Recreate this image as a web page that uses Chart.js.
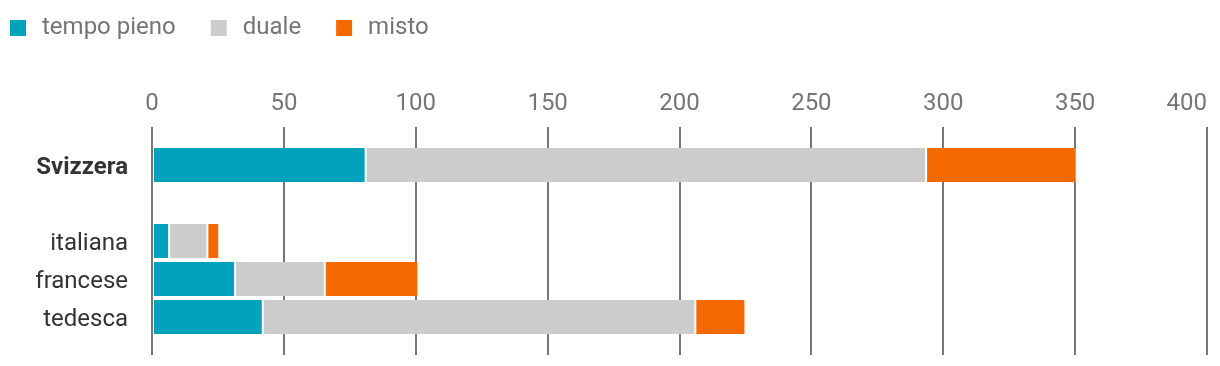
<!DOCTYPE html>
<html>
<head>
<meta charset="utf-8">
<script src="https://cdn.jsdelivr.net/npm/chart.js@4/dist/chart.umd.min.js"></script>
<style>
  html, body { margin: 0; padding: 0; background: #ffffff; }
  #wrap { width: 1220px; height: 366px; }
</style>
</head>
<body>
<div id="wrap"><canvas id="c" width="1220" height="366"></canvas></div>
<script>
// Categories (empty slots give the spacing seen in the chart)
const categories = ['', 'Svizzera', '', 'italiana', 'francese', 'tedesca', ''];
const seriesNames = ['tempo pieno', 'duale', 'misto'];
const tempoPieno = [null, 81, null, 6.5, 31.5, 42, null];
const duale      = [null, 212.5, null, 14.5, 34, 164, null];
const misto      = [null, 57, null, 4.5, 35.5, 19, null];
const xTicks = [0, 50, 100, 150, 200, 250, 300, 350, 400];

const colors = ['#00a3bb', '#cccccc', '#f56a00'];
const FONT = 'Roboto';

const values = [tempoPieno, duale, misto];
const datasets = seriesNames.map((name, i) => ({
  label: name,
  data: values[i],
  backgroundColor: colors[i],
  borderColor: '#ffffff',
  borderWidth: { left: 1, right: 1, top: 0, bottom: 0 },
  borderSkipped: false,
  categoryPercentage: 1,
  barPercentage: 0.895
}));

const xMin = xTicks[0];
const xMax = xTicks[xTicks.length - 1];

new Chart(document.getElementById('c'), {
  type: 'bar',
  data: { labels: categories, datasets },
  options: {
    indexAxis: 'y',
    responsive: false,
    animation: false,
    layout: { padding: { left: -25, top: -15, right: 13, bottom: 11 } },
    plugins: {
      tooltip: { enabled: false },
      legend: {
        position: 'top',
        align: 'start',
        labels: {
          usePointStyle: true,
          pointStyle: 'rect',
          boxWidth: 24,
          boxHeight: 16,
          padding: 31,
          color: '#757575',
          font: { family: FONT, size: 24 },
          generateLabels: (chart) =>
            Chart.defaults.plugins.legend.labels.generateLabels(chart)
              .map(l => Object.assign(l, { lineWidth: 0, pointStyle: 'rect', strokeStyle: l.fillStyle }))
        }
      }
    },
    scales: {
      x: {
        position: 'top',
        stacked: true,
        min: xMin,
        max: xMax,
        afterBuildTicks: (s) => { s.ticks = xTicks.map(v => ({ value: v })); },
        ticks: {
          stepSize: 50,
          padding: 9,
          color: '#757575',
          font: { family: FONT, size: 24 },
          maxRotation: 0,
          autoSkip: false,
          callback: (v) => v === xMax ? String(v) + '\u2007\u2007\u2007' : String(v)
        },
        grid: { color: '#777777', lineWidth: 2, drawTicks: false },
        border: { display: false },
        afterFit: (s) => { s.height = 77; s.paddingLeft = 0; s.paddingRight = 0; }
      },
      y: {
        stacked: true,
        offset: false,
        ticks: {
          padding: 24,
          labelOffset: 3,
          autoSkip: false,
          color: '#333333',
          font: (ctx) => ({ family: FONT, size: 24, weight: ctx.index === 1 ? 'bold' : 'normal' })
        },
        grid: { display: false, drawTicks: false },
        border: { display: false },
        afterFit: (s) => { s.width = 177; s.paddingTop = 0; s.paddingBottom = 0; }
      }
    }
  }
});
</script>
</body>
</html>
